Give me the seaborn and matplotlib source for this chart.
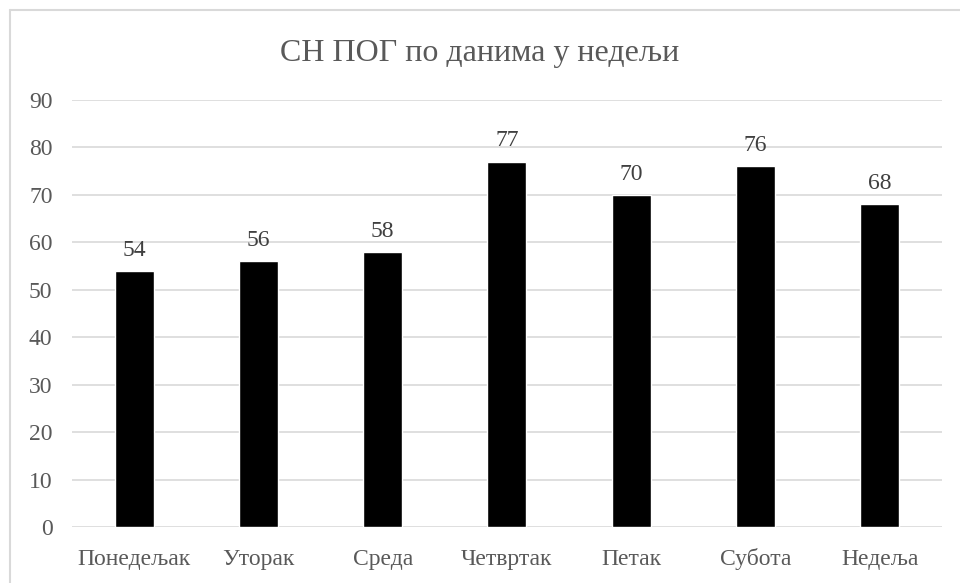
import matplotlib
matplotlib.use("Agg")
import matplotlib.pyplot as plt
import seaborn as sns
import pandas as pd
from matplotlib.lines import Line2D

days = ["Понедељак", "Уторак", "Среда", "Четвртак", "Петак", "Субота", "Недеља"]
values = [54, 56, 58, 77, 70, 76, 68]
title = "СН ПОГ по данима у недељи"

sns.set_theme(style="white")
plt.rcParams['font.family'] = ['Liberation Serif', 'DejaVu Serif']

df = pd.DataFrame({"day": days, "value": values})

fig = plt.figure(figsize=(9.6, 5.83), dpi=100)
ax = fig.add_axes([0.075, 0.0955, 0.906, 0.733])
sns.barplot(data=df, x="day", y="value", color="black", width=0.314,
            saturation=1, ax=ax, zorder=3)
ax.set_ylim(0, 90)
ax.set_yticks(range(0, 91, 10))
ax.grid(axis="y", color="#d9d9d9", linewidth=1.2, zorder=0)
ax.grid(axis="x", visible=False)
for s in ax.spines.values():
    s.set_visible(False)
ax.set_xlabel("")
ax.set_ylabel("")
ax.tick_params(axis="both", length=0, labelsize=17, labelcolor="#595959")
ax.tick_params(axis="y", pad=14)
ax.tick_params(axis="x", pad=27)
for lab in ax.get_xticklabels():
    lab.set_verticalalignment("baseline")
for c in ax.containers:
    ax.bar_label(c, labels=[str(v) for v in values], padding=7.5,
                 fontsize=17, color="#404040")
fig.text(0.5, 1 - 61/583, title, ha="center", va="baseline", fontsize=23,
         color="#595959")
top = 1 - 10/583
fig.lines.append(Line2D([10/960, 10/960], [0, top], transform=fig.transFigure,
                        color="#d9d9d9", linewidth=1.5))
fig.lines.append(Line2D([10/960, 1.0], [top, top], transform=fig.transFigure,
                        color="#d9d9d9", linewidth=1.5))
fig.savefig("out.png", dpi=100)
